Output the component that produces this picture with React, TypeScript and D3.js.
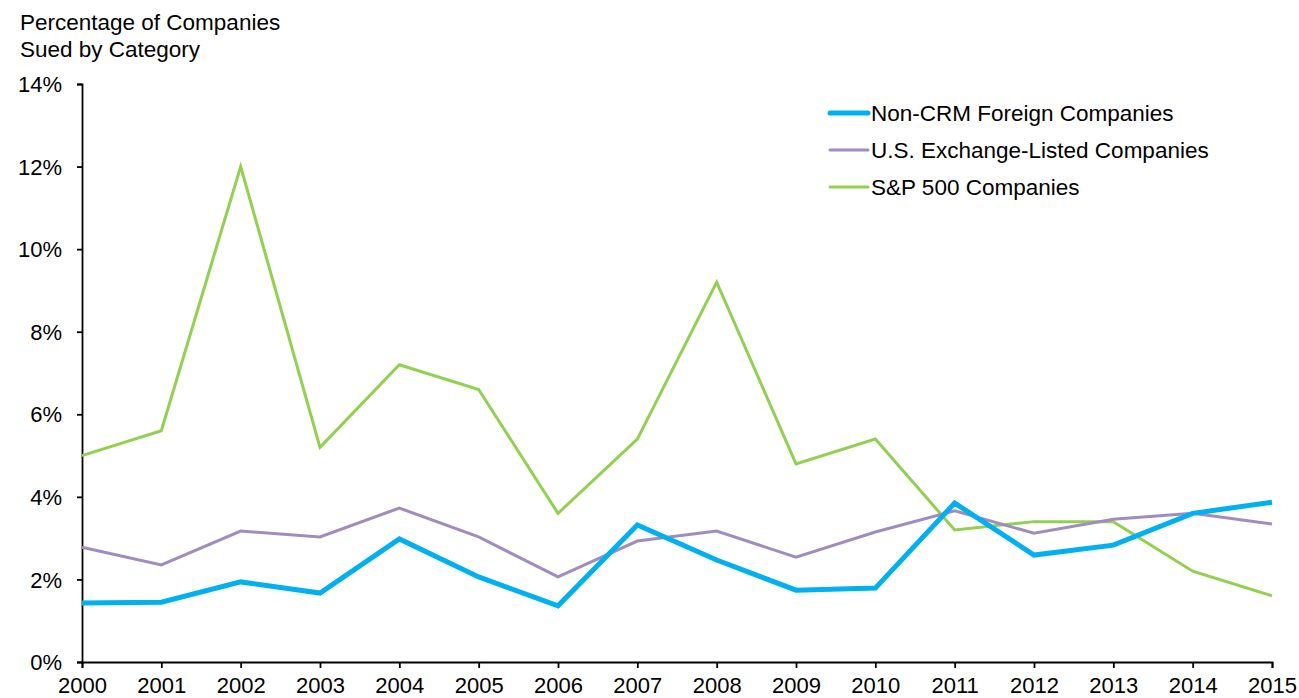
import * as d3 from 'd3';
import React, { useEffect, useRef } from 'react';

const years = d3.range(2000, 2016);
const nonCrm = [1.43, 1.45, 1.94, 1.67, 2.98, 2.06, 1.36, 3.32, 2.47, 1.74, 1.79, 3.85, 2.59, 2.83, 3.6, 3.87];
const usListed = [2.78, 2.35, 3.17, 3.03, 3.73, 3.03, 2.06, 2.93, 3.17, 2.54, 3.15, 3.66, 3.12, 3.46, 3.6, 3.34];
const sp500 = [5.0, 5.6, 12.0, 5.2, 7.2, 6.6, 3.6, 5.4, 9.2, 4.8, 5.4, 3.2, 3.4, 3.4, 2.2, 1.6];
const yTicks = [0, 2, 4, 6, 8, 10, 12, 14];

const series = [
  { name: 'Non-CRM Foreign Companies', values: nonCrm, color: '#00b0f0', width: 5 },
  { name: 'U.S. Exchange-Listed Companies', values: usListed, color: '#a08cc0', width: 3 },
  { name: 'S&P 500 Companies', values: sp500, color: '#92d050', width: 3 },
];

export default function App() {
  const ref = useRef(null);

  useEffect(() => {
    const width = 1299,
      height = 698;
    const left = 82,
      right = 1272,
      top = 84,
      bottom = 662;
    const font = 'Liberation Sans, Arial, sans-serif';

    const svg = d3.select(ref.current);
    svg.selectAll('*').remove();
    svg.attr('width', width).attr('height', height);

    const x = d3.scaleLinear().domain([2000, 2015]).range([left, right]);
    const y = d3.scaleLinear().domain([0, 14]).range([bottom, top]);

    // title
    ['Percentage of Companies', 'Sued by Category'].forEach((t, i) => {
      svg
        .append('text')
        .attr('x', 20)
        .attr('y', 30 + i * 26.5)
        .attr('font-family', font)
        .attr('font-size', 22.5)
        .attr('fill', '#000')
        .text(t);
    });

    // y axis
    const yAxis = svg
      .append('g')
      .attr('transform', `translate(${left},0)`)
      .call(
        d3
          .axisLeft(y)
          .tickValues(yTicks)
          .tickSize(5)
          .tickPadding(15)
          .tickFormat((d) => `${d}%`)
      );
    yAxis.select('.domain').attr('stroke', '#000').attr('stroke-width', 1.8);
    yAxis.selectAll('.tick line').attr('stroke', '#000').attr('stroke-width', 1.8);
    yAxis
      .selectAll('.tick text')
      .attr('font-family', font)
      .attr('font-size', 22)
      .attr('fill', '#000')
      .attr('dy', '0.35em');

    // x axis
    const xAxis = svg
      .append('g')
      .attr('transform', `translate(0,${bottom})`)
      .call(
        d3
          .axisBottom(x)
          .tickValues(years)
          .tickSize(6)
          .tickPadding(9)
          .tickFormat(d3.format('d'))
      );
    xAxis.select('.domain').attr('stroke', '#000').attr('stroke-width', 1.8);
    xAxis.selectAll('.tick line').attr('stroke', '#000').attr('stroke-width', 1.8);
    xAxis
      .selectAll('.tick text')
      .attr('font-family', font)
      .attr('font-size', 22)
      .attr('fill', '#000');

    // lines (drawn bottom-up so blue sits on top where they cross)
    const line = d3
      .line()
      .x((d, i) => x(years[i]))
      .y((d) => y(d));

    [...series].reverse().forEach((s) => {
      svg
        .append('path')
        .datum(s.values)
        .attr('d', line)
        .attr('fill', 'none')
        .attr('stroke', s.color)
        .attr('stroke-width', s.width)
        .attr('stroke-linejoin', 'miter');
    });

    // legend
    const legend = svg.append('g').attr('transform', 'translate(830,113)');
    series.forEach((s, i) => {
      const g = legend.append('g').attr('transform', `translate(0,${i * 37})`);
      g.append('line')
        .attr('x1', 0)
        .attr('x2', 38)
        .attr('y1', 0)
        .attr('y2', 0)
        .attr('stroke', s.color)
        .attr('stroke-width', s.width)
        .attr('stroke-linecap', 'round');
      g.append('text')
        .attr('x', 41)
        .attr('y', 0)
        .attr('dy', '0.35em')
        .attr('font-family', font)
        .attr('font-size', 22.5)
        .attr('fill', '#000')
        .text(s.name);
    });
  }, []);

  return (
    <svg
      ref={ref}
      style={{ position: 'absolute', left: 0, top: 0, background: '#fff' }}
    />
  );
}
